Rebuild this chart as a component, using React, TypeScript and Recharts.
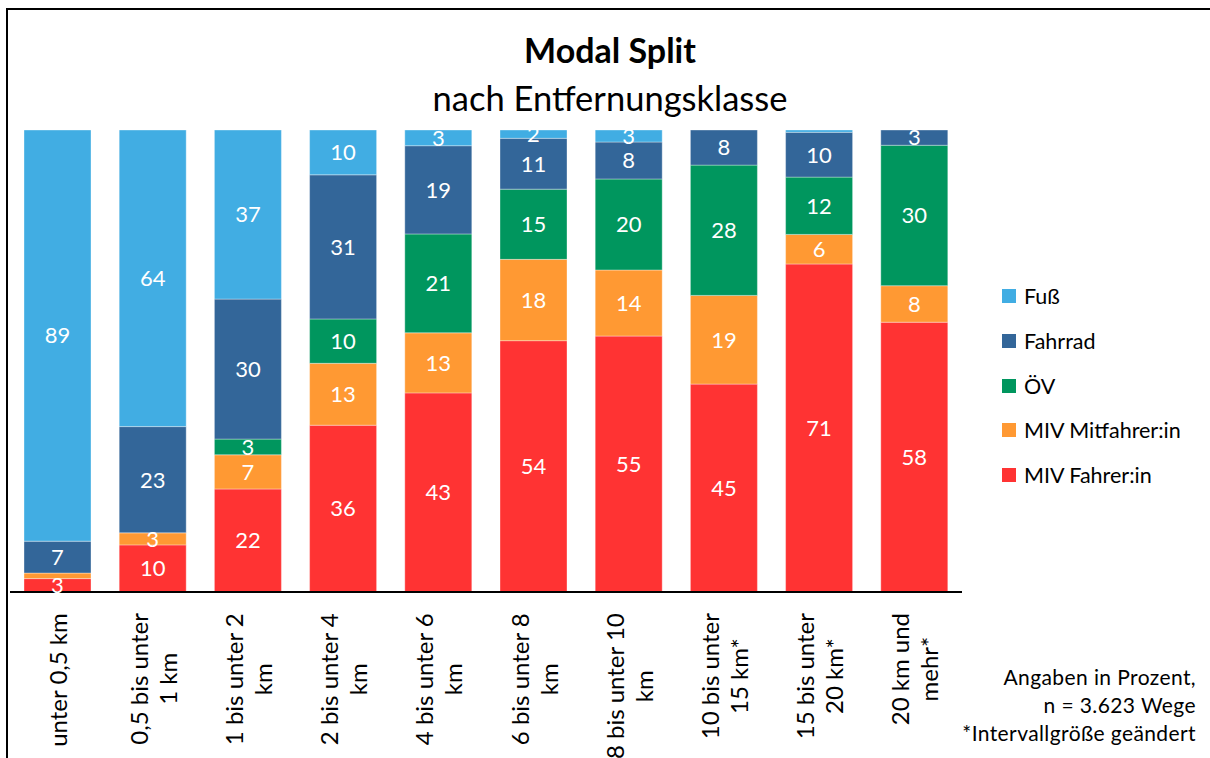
import { Bar, BarChart, LabelList, XAxis, YAxis } from 'recharts';

const FONT = 'Lato, "Open Sans", sans-serif';
const TICK_FONT_SIZE = 24;

// category labels, split into the lines shown under the axis
const categories = [
  ['unter 0,5 km'],
  ['0,5 bis unter', '1 km'],
  ['1 bis unter 2', 'km'],
  ['2 bis unter 4', 'km'],
  ['4 bis unter 6', 'km'],
  ['6 bis unter 8', 'km'],
  ['8 bis unter 10', 'km'],
  ['10 bis unter', '15 km*'],
  ['15 bis unter', '20 km*'],
  ['20 km und', 'mehr*'],
];

// shares in percent (labels shown rounded)
const mivFahrer = [2.9, 10.2, 22.3, 36.1, 43.1, 54.4, 55.4, 45.0, 71.0, 58.4];
const mivMitfahrer = [1.2, 2.6, 7.4, 13.4, 13.0, 17.6, 14.3, 19.2, 6.4, 7.9];
const oev = [0, 0, 3.4, 9.6, 21.4, 15.2, 19.7, 28.2, 12.4, 30.4];
const fahrrad = [6.9, 23.0, 30.3, 31.2, 19.1, 11.0, 8.0, 7.6, 9.7, 3.3];
const fuss = [89.0, 64.2, 36.6, 9.7, 3.4, 1.8, 2.6, 0, 0.5, 0];

const series = [
  { key: 'fahrer', name: 'MIV Fahrer:in', color: '#FF3333', values: mivFahrer },
  { key: 'mitfahrer', name: 'MIV Mitfahrer:in', color: '#FF9933', values: mivMitfahrer },
  { key: 'oev', name: 'ÖV', color: '#00965E', values: oev },
  { key: 'fahrrad', name: 'Fahrrad', color: '#336699', values: fahrrad },
  { key: 'fuss', name: 'Fuß', color: '#41ADE3', values: fuss },
];

const data = categories.map((lines, i) => {
  const row: Record<string, number | string> = { name: lines.join(' ') };
  series.forEach((s) => {
    row[s.key] = s.values[i];
  });
  return row;
});

let canvas: HTMLCanvasElement | null = null;
function textWidth(str: string, font: string) {
  if (!canvas) canvas = document.createElement('canvas');
  const ctx = canvas.getContext('2d')!;
  ctx.font = font;
  return ctx.measureText(str).width;
}

function CategoryTick(props: any) {
  const { x, y, index } = props;
  const lines = categories[index] || [];
  const w = Math.max(...lines.map((l) => textWidth(l, `${TICK_FONT_SIZE}px Lato`)));
  const lineH = 29;
  return (
    <g transform={`translate(${x},${y + 19}) rotate(-90)`}>
      {lines.map((l, i) => (
        <text
          key={i}
          x={-w / 2}
          y={(i - (lines.length - 1) / 2) * lineH}
          textAnchor="middle"
          dominantBaseline="central"
          fontSize={TICK_FONT_SIZE}
          fontFamily={FONT}
          fill="#000"
        >
          {l}
        </text>
      ))}
    </g>
  );
}

function LegendBox() {
  const items = [...series].reverse();
  return (
    <div style={{ position: 'absolute', left: 1002, top: 274, fontFamily: FONT, fontSize: 21.5 }}>
      {items.map((s) => (
        <div key={s.key} style={{ display: 'flex', alignItems: 'center', height: 44.7 }}>
          <span style={{ width: 14, height: 14, background: s.color, marginRight: 8, display: 'inline-block' }} />
          <span>{s.name}</span>
        </div>
      ))}
    </div>
  );
}

const labelFormatter = (v: any) => (typeof v === 'number' && v >= 1.5 ? Math.round(v) : '');

export default function App() {
  return (
    <div style={{ position: 'absolute', left: 0, top: 0, width: 1210, height: 758, background: '#fff', overflow: 'hidden' }}>
      <div
        style={{
          position: 'absolute',
          left: 6,
          top: 8,
          width: 1220,
          height: 760,
          borderLeft: '2px solid #000',
          borderTop: '2px solid #000',
        }}
      />
      <BarChart
        width={1210}
        height={758}
        data={data}
        margin={{ top: 130, right: 248, left: 10, bottom: 0 }}
        style={{ position: 'absolute', left: 0, top: 0 }}
      >
        <XAxis
          dataKey="name"
          height={166}
          interval={0}
          tickLine={false}
          tickSize={0}
          axisLine={{ stroke: '#000', strokeWidth: 2 }}
          tick={<CategoryTick />}
        />
        <YAxis hide domain={[0, 100]} type="number" allowDataOverflow />
        {series.map((s) => (
          <Bar
            key={s.key}
            dataKey={s.key}
            name={s.name}
            stackId="a"
            fill={s.color}
            barSize={67}
            stroke="#ffffff"
            strokeOpacity={0.35}
            strokeWidth={1}
            isAnimationActive={false}
          >
            <LabelList
              dataKey={s.key}
              position="center"
              formatter={labelFormatter}
              fill="#fff"
              fontSize={22}
              fontFamily={FONT}
            />
          </Bar>
        ))}
      </BarChart>
      <LegendBox />
      <svg width={1210} height={758} style={{ position: 'absolute', left: 0, top: 0, pointerEvents: 'none' }}>
        <text x={610} y={63} textAnchor="middle" fontFamily={FONT} fontSize={34} fontWeight="bold" fill="#000">
          Modal Split
        </text>
        <text x={610} y={111} textAnchor="middle" fontFamily={FONT} fontSize={34.5} fill="#000">
          nach Entfernungsklasse
        </text>
        <g fontFamily={FONT} fontSize={21} fill="#000" textAnchor="end" letterSpacing={0.4}>
          <text x={1196} y={685}>Angaben in Prozent,</text>
          <text x={1196} y={713}>n = 3.623 Wege</text>
          <text x={1196} y={741}>*Intervallgröße geändert</text>
        </g>
      </svg>
    </div>
  );
}
